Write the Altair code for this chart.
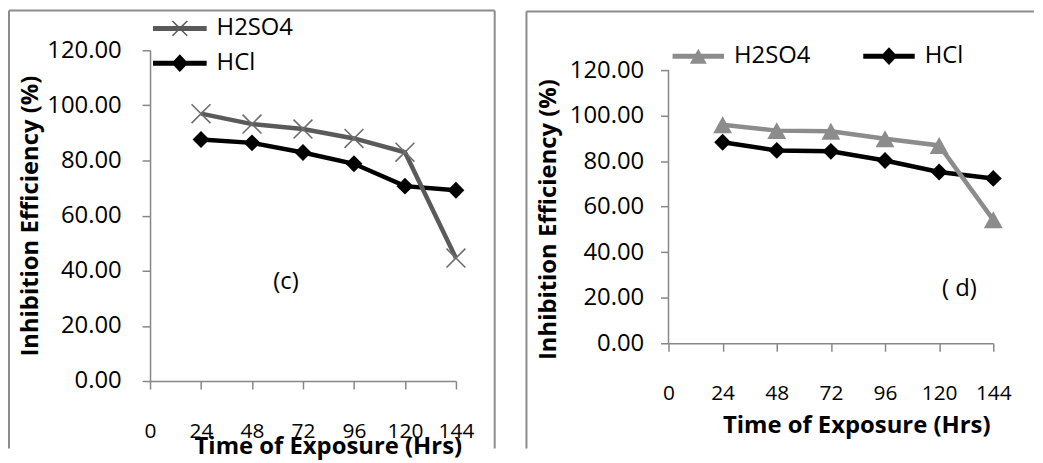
import altair as alt
import pandas as pd

# ---------------- data ----------------
times = [24, 48, 72, 96, 120, 144]
series_names = ["H2SO4", "HCl"]
c_h2so4 = [97.0, 93.2, 91.4, 88.0, 83.0, 44.6]
c_hcl = [87.6, 86.4, 82.9, 78.8, 70.7, 69.2]
d_h2so4 = [96.0, 93.4, 93.1, 89.8, 86.9, 54.2]
d_hcl = [88.3, 84.7, 84.3, 80.3, 75.2, 72.4]
x_ticks = [0, 24, 48, 72, 96, 120, 144]
y_ticks = [0, 20, 40, 60, 80, 100, 120]
panel_labels = ["(c)", "( d)"]
panel_label_x = [64, 129]
panel_label_y = [36, 24]
x_title = "Time of Exposure (Hrs)"
y_title = "Inhibition Efficiency (%)"

FONT = "Open Sans"
AXIS_GRAY = "#878787"
FRAME_GRAY = "#8c8c8c"

# marker / legend symbol paths
X_MARK = "M-1,-1L1,1M-1,1L1,-1"
TRI_MARK = "M0,-0.9L1,0.9L-1,0.9Z"
LEG_X = ("M-3.86,-0.36H3.86V0.36H-3.86Z "
         "M-1.14,-0.99L-0.99,-1.14L0,-0.15L0.99,-1.14L1.14,-0.99L0.15,0"
         "L1.14,0.99L0.99,1.14L0,0.15L-0.99,1.14L-1.14,0.99L-0.15,0Z")
LEG_DIA_L = "M-3.86,-0.36H3.86V0.36H-3.86Z M0,-1.28L1.2,0L0,1.28L-1.2,0Z"
LEG_TRI = "M-3.7,-0.36H3.7V0.36H-3.7Z M0,-1.07L1.21,1.07L-1.21,1.07Z"
LEG_DIA_R = "M-3.7,-0.36H3.7V0.36H-3.7Z M0,-1.28L1.2,0L0,1.28L-1.2,0Z"


def rule_layer(x1, y1, x2=None, y2=None):
    enc = dict(x=alt.value(x1), y=alt.value(y1))
    if x2 is not None:
        enc["x2"] = alt.value(x2)
    if y2 is not None:
        enc["y2"] = alt.value(y2)
    return alt.Chart(pd.DataFrame({"k": [0]})).mark_rule(
        color=FRAME_GRAY, strokeWidth=2).encode(**enc)


def make_panel(h2_vals, hcl_vals, w, h, y_max, own_y_line, h2_color, h2_marker,
               h2_filled, h2_size, h2_stroke_w, leg_paths, leg_kw, frames,
               x_kw, y_kw, lbl_idx):
    df = pd.DataFrame({
        "time": times * 2,
        "value": list(h2_vals) + list(hcl_vals),
        "series": [series_names[0]] * len(times) + [series_names[1]] * len(times),
    })
    x_enc = alt.X("time:Q", scale=alt.Scale(domain=[0, 144], nice=False, zero=False),
                  axis=alt.Axis(values=x_ticks, format="d", grid=False,
                                labelFont=FONT, labelFontSize=21, labelColor="black",
                                labelFlush=False, labelOverlap=False,
                                tickSize=8, tickColor=AXIS_GRAY, tickWidth=1.5,
                                domainColor=AXIS_GRAY, domainWidth=1.5,
                                title=x_title, titleFont=FONT, titleFontSize=24,
                                titleFontWeight="bold", titleColor="black", **x_kw))
    y_enc = alt.Y("value:Q", scale=alt.Scale(domain=[0, y_max], nice=False),
                  axis=alt.Axis(values=y_ticks, format=".2f", grid=False,
                                labelFont=FONT, labelFontSize=24, labelColor="black",
                                tickSize=8, tickColor=AXIS_GRAY, tickWidth=1.5,
                                domain=not own_y_line,
                                domainColor=AXIS_GRAY, domainWidth=1.5,
                                title=y_title, titleFont=FONT, titleFontSize=24,
                                titleFontWeight="bold", titleColor="black", **y_kw))
    base = alt.Chart(df)
    hcl_f = base.transform_filter(alt.datum.series == "HCl")
    h2_f = base.transform_filter(alt.datum.series == "H2SO4")

    hcl_line = hcl_f.mark_line(color="black", strokeWidth=4.5).encode(x=x_enc, y=y_enc)
    hcl_pts = hcl_f.mark_point(shape="diamond", filled=True, color="black",
                               size=289, opacity=1).encode(x="time:Q", y="value:Q")
    h2_line = h2_f.mark_line(color=h2_color, strokeWidth=4.5).encode(x="time:Q", y="value:Q")
    if h2_filled:
        h2_pts = h2_f.mark_point(shape=h2_marker, filled=True, color=h2_color,
                                 size=h2_size, opacity=1).encode(x="time:Q", y="value:Q")
    else:
        h2_pts = h2_f.mark_point(shape=h2_marker, filled=False, color="#6e6e6e",
                                 strokeWidth=h2_stroke_w, size=h2_size,
                                 opacity=1).encode(x="time:Q", y="value:Q")

    legend = alt.Legend(title=None, orient="none", symbolSize=196, padding=0,
                        labelFont=FONT, labelFontSize=24, labelColor="black",
                        symbolOpacity=1, symbolStrokeWidth=0, **leg_kw)
    leg_layer = base.mark_point(filled=True, opacity=0).encode(
        x="time:Q", y="value:Q",
        fill=alt.Fill("series:N", scale=alt.Scale(domain=series_names,
                                                  range=[h2_color, "black"]),
                      sort=series_names, legend=legend),
        shape=alt.Shape("series:N", scale=alt.Scale(domain=series_names, range=leg_paths),
                        sort=series_names, legend=legend),
    )

    lbl_df = pd.DataFrame({"time": [panel_label_x[lbl_idx]], "value": [panel_label_y[lbl_idx]],
                           "t": [panel_labels[lbl_idx]]})
    lbl = alt.Chart(lbl_df).mark_text(font=FONT, fontSize=24, color="black").encode(
        x="time:Q", y="value:Q", text="t:N")

    layers = [hcl_line] + [rule_layer(*f) for f in frames]
    if own_y_line:
        ax_df = pd.DataFrame({"time": [0], "value": [y_ticks[0]], "value2": [y_ticks[-1]]})
        layers.append(alt.Chart(ax_df).mark_rule(color=AXIS_GRAY, strokeWidth=1.5).encode(
            x="time:Q", y="value:Q", y2="value2:Q"))
    layers += [hcl_pts, h2_line, h2_pts, leg_layer, lbl]
    return alt.layer(*layers).properties(width=w, height=h)


left = make_panel(
    c_h2so4, c_hcl, 308, 333, 120, False, "#5a5a5a", X_MARK, False, 361, 1.6,
    [LEG_X, LEG_DIA_L],
    dict(direction="vertical", legendX=18, legendY=-34, labelOffset=25, rowPadding=11),
    [(-142, -40, None, 401), (-142, -40, 347, None), (347, -40, None, 401)],
    dict(labelPadding=32, titlePadding=-7, titleX=179),
    dict(labelPadding=21, titlePadding=4),
    0,
)

right = make_panel(
    d_h2so4, d_hcl, 327, 295, 128.7, True, "#8c8c8c", TRI_MARK, True, 361, 1.0,
    [LEG_TRI, LEG_DIA_R],
    dict(direction="horizontal", legendX=18, legendY=-6, labelOffset=24, columnPadding=53),
    [(-143, -39, None, 401), (-143, -39, 368, None)],
    dict(labelPadding=32, titlePadding=10, titleX=189),
    dict(labelPadding=17, titlePadding=9, titleY=170),
    1,
)

chart = alt.concat(left, right, columns=2, spacing=30, bounds="full").resolve_scale(
    x="independent", y="independent", fill="independent", shape="independent"
).resolve_legend(fill="independent", shape="independent").properties(
    padding={"left": 0, "top": 0, "right": 0, "bottom": 0}
).configure_view(stroke=None)

chart.save("out.html", embed_options={"renderer": "svg", "actions": False})
